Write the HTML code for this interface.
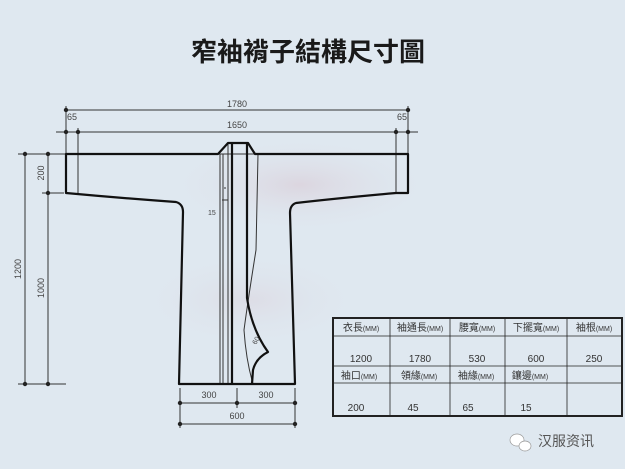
<!DOCTYPE html>
<html><head><meta charset="utf-8"><style>
html,body{margin:0;padding:0;}
body{width:625px;height:469px;background:#dfe8f0;overflow:hidden;position:relative;font-family:"Liberation Sans","Noto Sans CJK TC",sans-serif;}
svg{position:absolute;left:0;top:0;}
</style></head><body>
<svg width="625" height="469" viewBox="0 0 625 469" xmlns="http://www.w3.org/2000/svg">
<defs>
<radialGradient id="g" cx="50%" cy="50%" r="50%"><stop offset="0" stop-color="#d9c9d4" stop-opacity="0.6"/><stop offset="1" stop-color="#dfe8f0" stop-opacity="0"/></radialGradient>
</defs>
<rect width="625" height="469" fill="#dfe8f0"/>
<ellipse cx="300" cy="185" rx="140" ry="50" fill="url(#g)"/>
<ellipse cx="250" cy="300" rx="120" ry="50" fill="url(#g)" opacity="0.6"/>
<text x="308" y="61" text-anchor="middle" font-size="26" font-weight="bold" fill="#1a1a1a" font-family="'Noto Sans CJK TC',sans-serif">窄袖褙子結構尺寸圖</text>

<g stroke="#333" stroke-width="1" fill="none">
<!-- top dims -->
<line x1="66" y1="110" x2="410" y2="110"/>
<line x1="56" y1="132" x2="418" y2="132"/>
<line x1="66" y1="106" x2="66" y2="154"/>
<line x1="78" y1="128" x2="78" y2="154"/>
<line x1="408" y1="106" x2="408" y2="154"/>
<line x1="396" y1="128" x2="396" y2="154"/>
<!-- left dims -->
<line x1="25" y1="154" x2="25" y2="384"/>
<line x1="48" y1="154" x2="48" y2="384"/>
<line x1="18" y1="154" x2="66" y2="154"/>
<line x1="42" y1="193" x2="64" y2="193"/>
<line x1="18" y1="384" x2="66" y2="384"/>
<!-- bottom dims -->
<line x1="180" y1="388" x2="180" y2="428"/>
<line x1="237" y1="388" x2="237" y2="408"/>
<line x1="295" y1="388" x2="295" y2="428"/>
<line x1="180" y1="403" x2="295" y2="403"/>
<line x1="180" y1="424" x2="295" y2="424"/>
<!-- cuffs -->
<line x1="78" y1="154" x2="78" y2="193"/>
<line x1="396" y1="154" x2="396" y2="193"/>
<!-- thin collar lines -->
<line x1="220" y1="154" x2="220" y2="384"/>
<line x1="223" y1="154" x2="223" y2="384"/>
<line x1="228" y1="143" x2="228" y2="384"/>
<line x1="218" y1="154" x2="255" y2="154"/>
<path d="M258 154 L256 250 Q248 300 244 330 Q246 360 253 384"/>
<path d="M224 188 L226 188 M222 200 L228 200"/>
</g>
<g fill="#222">
<circle cx="66" cy="110" r="2.2"/><circle cx="408" cy="110" r="2.2"/>
<circle cx="66" cy="132" r="2.2"/><circle cx="78" cy="132" r="2.2"/>
<circle cx="396" cy="132" r="2.2"/><circle cx="408" cy="132" r="2.2"/>
<circle cx="25" cy="154" r="2.2"/><circle cx="48" cy="154" r="2.2"/>
<circle cx="48" cy="193" r="2.2"/><circle cx="25" cy="384" r="2.2"/><circle cx="48" cy="384" r="2.2"/>
<circle cx="180" cy="403" r="2.2"/><circle cx="237" cy="403" r="2.2"/><circle cx="295" cy="403" r="2.2"/>
<circle cx="180" cy="424" r="2.2"/><circle cx="295" cy="424" r="2.2"/>
</g>
<!-- garment outline -->
<g stroke="#111" stroke-width="2.2" fill="none" stroke-linejoin="round">
<path d="M228 143 L248 143 L255 154 L408 154 L408 193 L396 193 Q340 198 296 203 Q290 205 290 213 L295 384 L179 384 L183 212 Q183 204 176 202 Q120 198 66 193 L66 154 L218 154 Z"/>
<line x1="232" y1="143" x2="232" y2="384"/>
<path d="M247 143 L247 298 Q252 330 268 352 Q256 358 253 370 L252 384"/>
</g>
<g font-size="9" fill="#444" font-family="'Liberation Sans',sans-serif">
<text x="237" y="107" text-anchor="middle">1780</text>
<text x="237" y="128" text-anchor="middle">1650</text>
<text x="67" y="120">65</text>
<text x="397" y="120">65</text>
<text x="209" y="398" text-anchor="middle">300</text>
<text x="266" y="398" text-anchor="middle">300</text>
<text x="237" y="419" text-anchor="middle">600</text>
<text x="208" y="215" font-size="7">15</text>
<text transform="translate(44,173) rotate(-90)" text-anchor="middle">200</text>
<text transform="translate(44,288) rotate(-90)" text-anchor="middle">1000</text>
<text transform="translate(21,269) rotate(-90)" text-anchor="middle">1200</text>
<text transform="translate(256,345) rotate(-60)" font-size="7">60</text>
</g>
<!-- table -->
<g stroke="#222" fill="none">
<rect x="333" y="318" width="289" height="98" stroke-width="2"/>
<g stroke-width="0.8">
<line x1="333" y1="336" x2="622" y2="336"/>
<line x1="333" y1="366" x2="622" y2="366"/>
<line x1="333" y1="383" x2="622" y2="383"/>
<line x1="390" y1="318" x2="390" y2="416"/>
<line x1="450" y1="318" x2="450" y2="416"/>
<line x1="505" y1="318" x2="505" y2="416"/>
<line x1="567" y1="318" x2="567" y2="416"/>
</g>
</g>
<g font-size="10" fill="#333" font-family="'Liberation Sans','Noto Sans CJK TC',sans-serif" text-anchor="middle">
<text x="361" y="331">衣長<tspan font-size="7">(MM)</tspan></text>
<text x="420" y="331">袖通長<tspan font-size="7">(MM)</tspan></text>
<text x="477" y="331">腰寬<tspan font-size="7">(MM)</tspan></text>
<text x="536" y="331">下擺寬<tspan font-size="7">(MM)</tspan></text>
<text x="594" y="331">袖根<tspan font-size="7">(MM)</tspan></text>
<text x="361" y="362">1200</text><text x="420" y="362">1780</text><text x="477" y="362">530</text><text x="536" y="362">600</text><text x="594" y="362">250</text>
<text x="359" y="379">袖口<tspan font-size="7">(MM)</tspan></text>
<text x="419" y="379">領緣<tspan font-size="7">(MM)</tspan></text>
<text x="476" y="379">袖緣<tspan font-size="7">(MM)</tspan></text>
<text x="530" y="379">鑲邊<tspan font-size="7">(MM)</tspan></text>
<text x="356" y="411">200</text><text x="413" y="411">45</text><text x="468" y="411">65</text><text x="526" y="411">15</text>
</g>
<g fill="#fff" stroke="#999" stroke-width="0.7">
<ellipse cx="517" cy="440" rx="7" ry="6"/><ellipse cx="525" cy="446" rx="6" ry="5"/>
</g>
<text x="538" y="446" font-size="14" fill="#555" font-family="'Noto Sans CJK SC',sans-serif">汉服资讯</text>
</svg>
</body></html>
